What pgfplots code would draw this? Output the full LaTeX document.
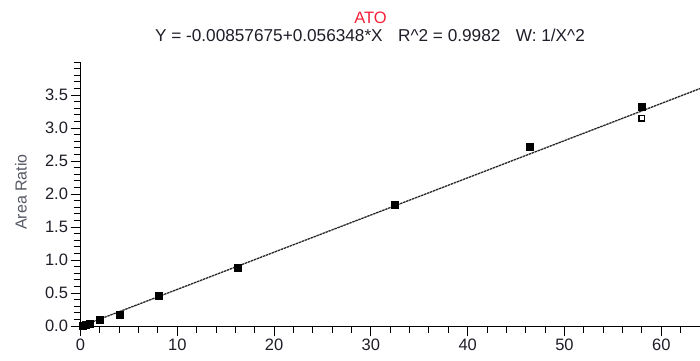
\documentclass[border=0pt]{standalone}
\usepackage{fontspec}
\setmainfont{Liberation Sans}
\newfontfamily\chartfont{Liberation Sans}
\usepackage{pgfplots}
\pgfplotsset{compat=1.18}
\definecolor{titlered}{RGB}{245,30,55}
\definecolor{ticktext}{RGB}{30,30,40}
\definecolor{labeltext}{RGB}{85,88,100}
\begin{document}
\begin{tikzpicture}[x=1pt,y=1pt]
\begin{axis}[
  scale only axis,
  width=619.5pt, height=264pt,
  at={(80.5pt,34pt)}, anchor=south west,
  xmin=0, xmax=64, ymin=0, ymax=4,
  axis x line=bottom, axis y line=left,
  axis line style={-, black, line width=1pt},
  clip=false,
  xtick={0,10,...,60},
  minor xtick={2,4,6,8,12,14,16,18,22,24,26,28,32,34,36,38,42,44,46,48,52,54,56,58,62,64},
  ytick={0,0.5,...,3.5},
  minor ytick={0.1,0.2,...,4.0},
  tick align=outside,
  major tick length=10pt, minor tick length=7pt,
  every tick/.style={black, line width=1pt},
  /pgf/number format/assume math mode=true,
  yticklabel style={/pgf/number format/fixed, /pgf/number format/fixed zerofill, /pgf/number format/precision=1, xshift=1pt},
  ticklabel style={font=\chartfont\fontsize{16.5}{18}\selectfont, text=ticktext},
  xticklabel style={yshift=1pt},
]
\addplot[black!85, line width=1.3pt, dash pattern=on 2.5pt off 0.7pt] coordinates {(0,-0.00857675) (64,3.59769525)};
\addplot[only marks, mark=square*, mark size=3.5pt, mark options={fill=black, draw=black}] coordinates {
(0.25,0.005) (0.5,0.02) (1,0.04) (2,0.09) (4.1,0.17) (8.1,0.46) (16.25,0.89) (32.5,1.84) (46.4,2.71) (58.0,3.33)
};
\addplot[only marks, mark=square, mark size=2.9pt, mark options={draw=black, line width=1.1pt}] coordinates {(58.0,3.15)};
\end{axis}
\node[inner sep=0pt, font=\chartfont\fontsize{16.5}{18}\selectfont, text=titlered] at (370.5,342.5) {ATO};
\node[inner sep=0pt, font=\chartfont\fontsize{17.2}{19}\selectfont, text=ticktext] at (370,325) {Y = -0.00857675+0.056348*X\hspace{0.9em}R\^{}2 = 0.9982\hspace{0.9em}W: 1/X\^{}2};
\node[inner sep=0pt, font=\chartfont\fontsize{16}{18}\selectfont, text=labeltext, rotate=90] at (21,168) {Area Ratio};
\pgfresetboundingbox
\useasboundingbox (0,0) rectangle (700,360);
\end{tikzpicture}
\end{document}
